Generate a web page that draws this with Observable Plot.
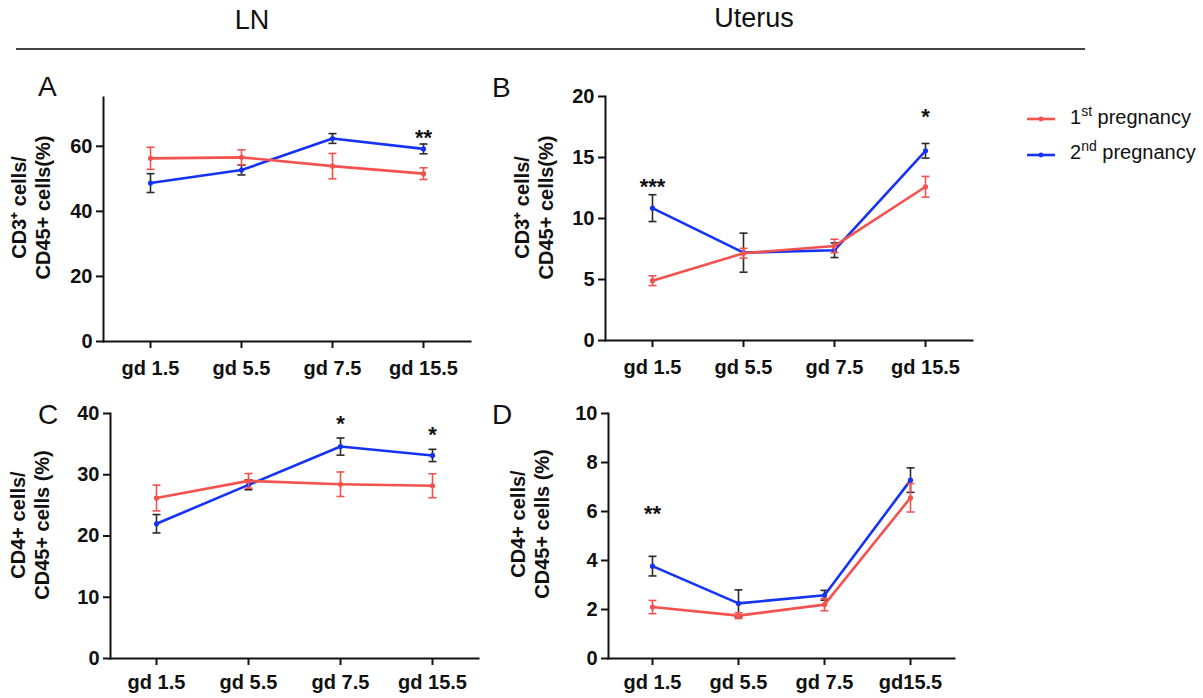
<!DOCTYPE html>
<html><head><meta charset="utf-8">
<script src="https://cdn.jsdelivr.net/npm/d3@7"></script>
<script src="https://cdn.jsdelivr.net/npm/@observablehq/plot@0.6"></script>
<style>
body{margin:0;background:#fff;}
#root{position:relative;width:1203px;height:698px;overflow:hidden;font-family:"Liberation Sans",Arial,sans-serif;color:#111;}
.abs{position:absolute;line-height:1;white-space:nowrap;}
.abs svg{overflow:visible;}
sup{font-size:0.7em;vertical-align:0.55em;line-height:0;}
</style></head><body><div id="root"></div>
<script>
// ---- data ----
const categories = ["gd 1.5", "gd 5.5", "gd 7.5", "gd 15.5"];
const tickLabelsABC = ["gd 1.5", "gd 5.5", "gd 7.5", "gd 15.5"];
const tickLabelsD = ["gd 1.5", "gd 5.5", "gd 7.5", "gd15.5"];
const seriesNames = ["1st pregnancy", "2nd pregnancy"];

// A: LN, CD3+ / CD45+ (%)
const aFirstMean = [56.3, 56.6, 53.9, 51.6];
const aFirstErr = [3.4, 2.3, 3.9, 1.8];
const aSecondMean = [48.7, 52.7, 62.4, 59.2];
const aSecondErr = [2.9, 1.5, 1.5, 1.5];
const aTicks = [0, 20, 40, 60];
const aSig = [{cat: "gd 15.5", y: 62.6, label: "**"}];

// B: Uterus, CD3+ / CD45+ (%)
const bFirstMean = [4.9, 7.15, 7.75, 12.6];
const bFirstErr = [0.4, 0.4, 0.55, 0.85];
const bSecondMean = [10.85, 7.2, 7.4, 15.55];
const bSecondErr = [1.1, 1.6, 0.6, 0.6];
const bTicks = [0, 5, 10, 15, 20];
const bSig = [{cat: "gd 1.5", y: 12.57, label: "***"}, {cat: "gd 15.5", y: 18.36, label: "*"}];

// C: LN, CD4+ / CD45+ (%)
const cFirstMean = [26.2, 29.0, 28.45, 28.2];
const cFirstErr = [2.1, 1.2, 2.0, 1.95];
const cSecondMean = [22.0, 28.35, 34.6, 33.15];
const cSecondErr = [1.5, 0.8, 1.4, 1.0];
const cTicks = [0, 10, 20, 30, 40];
const cSig = [{cat: "gd 7.5", y: 38.36, label: "*"}, {cat: "gd 15.5", y: 36.56, label: "*"}];

// D: Uterus, CD4+ / CD45+ (%)
const dFirstMean = [2.1, 1.75, 2.2, 6.56];
const dFirstErr = [0.27, 0.12, 0.25, 0.58];
const dSecondMean = [3.77, 2.25, 2.58, 7.28];
const dSecondErr = [0.4, 0.55, 0.2, 0.5];
const dTicks = [0, 2, 4, 6, 8, 10];
const dSig = [{cat: "gd 1.5", y: 5.91, label: "**"}];

// ---- styling ----
const RED = "#f4524f";
const BLUE = "#1433f5";
const BLUE_ERR = "#2a2a2a";

const root = document.getElementById("root");
function place(el, left, top) {
  el.classList.add("abs");
  el.style.left = left + "px";
  el.style.top = top + "px";
  root.appendChild(el);
  return el;
}
function textDiv(html, left, top, size, weight, extra) {
  const d = document.createElement("div");
  d.innerHTML = html;
  d.style.fontSize = size + "px";
  d.style.fontWeight = weight || "normal";
  if (extra) Object.assign(d.style, extra);
  return place(d, left, top);
}

// header
textDiv("LN", 252, 7, 27, "normal", {transform: "translateX(-50%)"});
textDiv("Uterus", 754, 5, 27, "normal", {transform: "translateX(-50%)"});
const hr = document.createElement("div");
hr.style.width = "1069px"; hr.style.height = "0"; hr.style.borderTop = "2px solid #444";
place(hr, 16, 48);

// panel letters
textDiv("A", 38, 73, 28);
textDiv("B", 492, 74, 28);
textDiv("C", 38, 401, 28);
textDiv("D", 492, 401, 28);

const capSymbol = {draw(ctx, size) { const w = Math.sqrt(size / Math.PI); ctx.moveTo(-w, 0); ctx.lineTo(w, 0); }};

function rows(means, errs) {
  return categories.map((c, i) => ({cat: c, v: means[i], e: errs[i]}));
}

function seriesMarks(data, color, errColor) {
  return [
    Plot.ruleX(data, {x: "cat", y1: d => d.v - d.e, y2: d => d.v + d.e, stroke: errColor, strokeWidth: 1.6}),
    Plot.dot(data, {x: "cat", y: d => d.v + d.e, symbol: capSymbol, r: 4, fill: "none", stroke: errColor, strokeWidth: 1.6}),
    Plot.dot(data, {x: "cat", y: d => d.v - d.e, symbol: capSymbol, r: 4, fill: "none", stroke: errColor, strokeWidth: 1.6}),
    Plot.line(data, {x: "cat", y: "v", stroke: color, strokeWidth: 2.6}),
    Plot.dot(data, {x: "cat", y: "v", r: 2.6, fill: color})
  ];
}

const panels = [
  {left: 0, top: 60, width: 480, height: 320, mL: 103, mR: 10, mT: 37, mB: 39, ymax: 75, ticks: aTicks,
   first: rows(aFirstMean, aFirstErr), second: rows(aSecondMean, aSecondErr), sig: aSig, labels: tickLabelsABC,
   tickPad: 12, title: "CD3⁺ cells/\nCD45+ cells(%)", tdx: -73, tdy: -12},
  {left: 480, top: 60, width: 500, height: 320, mL: 125, mR: 8, mT: 36, mB: 40, ymax: 20, ticks: bTicks,
   first: rows(bFirstMean, bFirstErr), second: rows(bSecondMean, bSecondErr), sig: bSig, labels: tickLabelsABC,
   tickPad: 12, title: "CD3⁺ cells/\nCD45+ cells(%)", tdx: -72, tdy: -11},
  {left: 0, top: 390, width: 480, height: 308, mL: 110, mR: 2, mT: 23, mB: 40, ymax: 40, ticks: cTicks,
   first: rows(cFirstMean, cFirstErr), second: rows(cSecondMean, cSecondErr), sig: cSig, labels: tickLabelsABC,
   tickPad: 9, title: "CD4+ cells/\nCD45+ cells (%)", tdx: -81, tdy: -11},
  {left: 480, top: 390, width: 500, height: 308, mL: 128, mR: 26, mT: 23, mB: 40, ymax: 10, ticks: dTicks,
   first: rows(dFirstMean, dFirstErr), second: rows(dSecondMean, dSecondErr), sig: dSig, labels: tickLabelsD,
   tickPad: 9, title: "CD4+ cells/\nCD45+ cells (%)", tdx: -79, tdy: -12}
];

for (const p of panels) {
  const chart = Plot.plot({
    width: p.width, height: p.height,
    marginLeft: p.mL, marginRight: p.mR, marginTop: p.mT, marginBottom: p.mB,
    style: {fontFamily: "'Liberation Sans', Arial, sans-serif", fontSize: "20px", fontWeight: "bold", color: "#111", background: "transparent", overflow: "visible"},
    x: {type: "point", domain: categories, padding: 0.5},
    y: {domain: [0, p.ymax]},
    marks: [
      Plot.axisY({ticks: p.ticks, tickSize: 7, tickPadding: 4, strokeWidth: 2, label: null}),
      Plot.axisX({tickSize: 7, tickPadding: p.tickPad, strokeWidth: 2, label: null,
                  tickFormat: d => p.labels[categories.indexOf(d)]}),
      ...seriesMarks(p.second, BLUE, BLUE_ERR),
      ...seriesMarks(p.first, RED, RED),
      Plot.text(p.sig, {x: "cat", y: "y", text: "label", fontSize: 22, fontWeight: "bold", lineAnchor: "middle"}),
      Plot.text([p.title], {frameAnchor: "left", rotate: -90, dx: p.tdx, dy: p.tdy, text: d => d,
                            fontSize: 20, fontWeight: "bold", lineHeight: 1.2, textAnchor: "middle", lineAnchor: "middle"}),
      Plot.frame({anchor: "left", strokeWidth: 2}),
      Plot.frame({anchor: "bottom", strokeWidth: 2})
    ]
  });
  place(chart, p.left, p.top);
}

// legend
const legendItems = [
  {name: seriesNames[0], html: "1<sup>st</sup> pregnancy", color: RED, lineY: 114, textTop: 107},
  {name: seriesNames[1], html: "2<sup>nd</sup> pregnancy", color: BLUE, lineY: 150, textTop: 142}
];
for (const it of legendItems) {
  const sw = document.createElementNS("http://www.w3.org/2000/svg", "svg");
  sw.setAttribute("width", 30); sw.setAttribute("height", 8);
  sw.innerHTML = `<line x1="1" y1="4" x2="29" y2="4" stroke="${it.color}" stroke-width="2.6"/><circle cx="15" cy="4" r="2.4" fill="${it.color}"/>`;
  const wrap = document.createElement("div");
  wrap.appendChild(sw);
  place(wrap, 1026, it.lineY - 4);
  textDiv(it.html, 1070, it.textTop, 20, "normal", {color: "#111"});
}
</script></body></html>
